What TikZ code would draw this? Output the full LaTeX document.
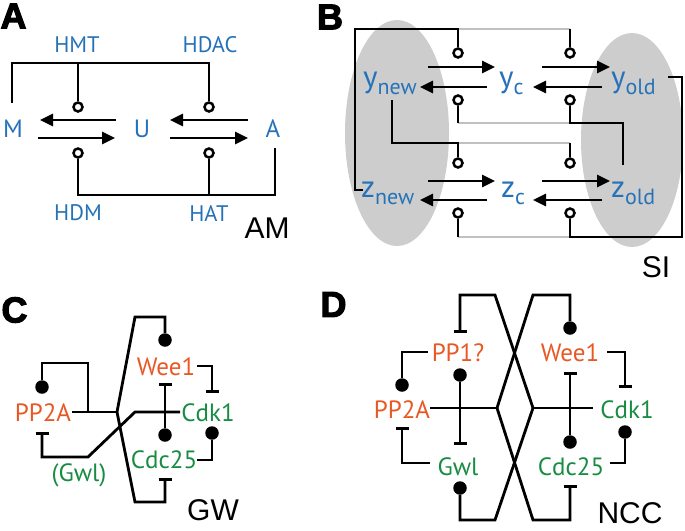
\documentclass[tikz,border=0pt]{standalone}
\usepackage{fontspec}
\setmainfont{PT Sans}
\newfontfamily\lblfont{Liberation Sans}
\newfontfamily\panelfont[BoldFeatures={FakeBold=3}]{Liberation Sans}
\usetikzlibrary{arrows.meta}
\definecolor{cblue}{RGB}{38,114,184}
\definecolor{corange}{RGB}{232,88,36}
\definecolor{cgreen}{RGB}{24,140,66}
\definecolor{cgreyfill}{RGB}{205,205,205}
\definecolor{cgreyline}{RGB}{192,192,192}
\newcommand{\mysym}[2]{{\fontsize{31}{31}\selectfont #1}\raisebox{-7pt}{\fontsize{22}{22}\selectfont #2}}
\begin{document}
\begin{tikzpicture}[x=1pt,y=-1pt,
  ln/.style={line width=2.8pt,black},
  gln/.style={line width=2.8pt,cgreyline},
  arr/.style={ln,-{Triangle[length=13pt,width=12pt]}},
  inh/.style={ln,-{Bar[width=13pt]}},
  ocirc/.style={circle,draw,line width=2.5pt,fill=white,inner sep=0pt,minimum size=9pt},
  fcirc/.style={circle,fill=black,inner sep=0pt,minimum size=13.5pt},
  panel/.style={font=\panelfont\bfseries\fontsize{36}{36}\selectfont,inner sep=0pt},
  big/.style={text=cblue,font=\fontsize{25}{25}\selectfont,inner sep=0pt},
  small/.style={text=cblue,font=\fontsize{22.5}{22.5}\selectfont,inner sep=0pt},
  tag/.style={font=\lblfont\fontsize{30}{30}\selectfont,inner sep=0pt},
  sym/.style={text=cblue,inner sep=0pt,anchor=base west},
  org/.style={text=corange,font=\fontsize{25}{25}\selectfont,inner sep=0pt},
  grn/.style={text=cgreen,font=\fontsize{25}{25}\selectfont,inner sep=0pt}]
\useasboundingbox (0,0) rectangle (685,530);

% ---------------- Panel A ----------------
\node[panel] (pA) at (13.5,16) {A};
\node[big] (M) at (13,129) {M};
\node[big] (U) at (142,129) {U};
\node[big] (Ac) at (273,129) {A};
\node[small] (HMT) at (77,45) {HMT};
\node[small] (HDAC) at (210,45) {HDAC};
\node[small] (HDM) at (78,213) {HDM};
\node[small] (HAT) at (209,213) {HAT};
\node[tag] (AM) at (267,228) {AM};

\node[ocirc] (hmtC) at (78,107) {};
\node[ocirc] (hdacC) at (209,107) {};
\node[ocirc] (hdmC) at (78,153) {};
\node[ocirc] (hatC) at (209,153) {};
\draw[ln] (12,103) -- (12,63) -- (209,63) -- (hdacC);
\draw[ln] (78,63) -- (hmtC);
\draw[ln] (hdmC) -- (78,195) -- (275,195) -- (275,148);
\draw[ln] (hatC) -- (209,195);

\draw[arr] (116,120) -- (40,120);
\draw[arr] (38,138) -- (115,138);
\draw[arr] (248,120) -- (170,120);
\draw[arr] (170,138) -- (248,138);

% ---------------- Panel B ----------------
\fill[cgreyfill] (397,133) ellipse [x radius=52, y radius=113];
\fill[cgreyfill] (632,140) ellipse [x radius=51, y radius=107];
\node[panel] (pB) at (330,17) {B};

\node[sym] (ynew) at (363,87) {\mysym{y}{new}};
\node[sym] (yc) at (499,87) {\mysym{y}{c}};
\node[sym] (yold) at (611,87) {\mysym{y}{old}};
\node[sym] (znew) at (361,197) {\mysym{z}{new}};
\node[sym] (zc) at (501,197) {\mysym{z}{c}};
\node[sym] (zold) at (611,197) {\mysym{z}{old}};
\node[tag] (SI) at (656,267) {SI};

\draw[gln] (458,29) -- (570,29);
\draw[gln] (458,123) -- (570,123);
\draw[gln] (458,143) -- (570,143);
\draw[gln] (458,237) -- (570,237);

\node[ocirc] (b1) at (458,53) {};
\node[ocirc] (b2) at (570,53) {};
\node[ocirc] (b3) at (458,100) {};
\node[ocirc] (b4) at (570,100) {};
\node[ocirc] (b5) at (458,163) {};
\node[ocirc] (b6) at (570,163) {};
\node[ocirc] (b7) at (458,213) {};
\node[ocirc] (b8) at (570,213) {};

\draw[ln] (b1) -- (458,29) -- (355,29) -- (355,190) -- (363,190);
\draw[ln] (b2) -- (570,29);
\draw[ln] (b3) -- (458,123);
\draw[ln] (b4) -- (570,123) -- (623,123) -- (623,165);
\draw[ln] (392,100) -- (392,143) -- (458,143) -- (b5);
\draw[ln] (b6) -- (570,143);
\draw[ln] (b7) -- (458,237);
\draw[ln] (b8) -- (570,237) -- (682,237) -- (682,77) -- (668,77);

\draw[arr] (428,67) -- (495,67);
\draw[arr] (487,87) -- (420,87);
\draw[arr] (542,67) -- (610,67);
\draw[arr] (602,87) -- (533,87);
\draw[arr] (428,181) -- (495,181);
\draw[arr] (487,200) -- (420,200);
\draw[arr] (542,181) -- (610,181);
\draw[arr] (602,200) -- (533,200);

% ---------------- Panel C ----------------
\node[panel] (pC) at (14.5,310) {C};
\node[org] (PPc) at (43,413) {PP2A};
\node[org] (Weec) at (166,367) {Wee1};
\node[grn] (Cdkc) at (208,413) {Cdk1};
\node[grn] (Cdcc) at (164,460) {Cdc25};
\node[grn] (Gwlc) at (79,475) {(Gwl)};
\node[tag] (GW) at (213,510) {GW};

\node[fcirc] (c1) at (42,387) {};
\node[fcirc] (c2) at (165,340) {};
\node[fcirc] (c3) at (165,435) {};
\node[fcirc] (c4) at (212,433) {};
\coordinate (cb1) at (42,432);
\coordinate (cb2) at (212,393);
\coordinate (cb3) at (165,383);
\coordinate (cb4) at (165,478);
\coordinate (jC) at (117,412);
\coordinate (jG) at (135,412);

\draw[ln] (72,412) -- (jC);
\draw[ln] (88,412) -- (88,363) -- (42,363) -- (c1);
\draw[ln] (jC) -- (135,317) -- (165,317) -- (c2);
\draw[inh] (jC) -- (135,502) -- (165,502) -- (cb4);
\draw[inh] (180,412) -- (jG) -- (88,457) -- (42,457) -- (cb1);
\draw[inh] (c3) -- (cb3);
\draw[inh] (197,366) -- (212,366) -- (cb2);
\draw[ln] (197,460) -- (212,460) -- (c4);

% ---------------- Panel D ----------------
\node[panel] (pD) at (333.5,304.5) {D};
\node[org] (PP1) at (458,353) {PP1?};
\node[org] (Weed) at (570,353) {Wee1};
\node[org] (PPd) at (402,410) {PP2A};
\node[grn] (Cdkd) at (627,410) {Cdk1};
\node[grn] (Gwld) at (458,467) {Gwl};
\node[grn] (Cdcd) at (571,467) {Cdc25};
\node[tag] (NCC) at (630,513) {NCC};

\node[fcirc] (d1) at (402,385) {};
\node[fcirc] (d2) at (460,375) {};
\node[fcirc] (d3) at (570,328) {};
\node[fcirc] (d4) at (570,442) {};
\node[fcirc] (d5) at (625,432) {};
\node[fcirc] (d6) at (460,488) {};
\coordinate (db1) at (460,333);
\coordinate (db2) at (402,427);
\coordinate (db3) at (460,445);
\coordinate (db4) at (570,372);
\coordinate (db5) at (625,388);
\coordinate (db6) at (570,485);
\coordinate (jL) at (497,408);
\coordinate (jR) at (533,408);

\draw[ln] (430,408) -- (jL);
\draw[ln] (jR) -- (593,408);
\draw[inh] (d2) -- (db3);
\draw[inh] (d4) -- (db4);
\draw[inh] (jR) -- (495,295) -- (460,295) -- (db1);
\draw[ln] (jL) -- (533,295) -- (570,295) -- (d3);
\draw[inh] (jL) -- (533,520) -- (570,520) -- (db6);
\draw[ln] (jR) -- (495,520) -- (460,520) -- (d6);
\draw[ln] (428,352) -- (402,352) -- (d1);
\draw[inh] (430,463) -- (402,463) -- (db2);
\draw[inh] (607,352) -- (625,352) -- (db5);
\draw[ln] (610,463) -- (625,463) -- (d5);
\end{tikzpicture}
\end{document}
